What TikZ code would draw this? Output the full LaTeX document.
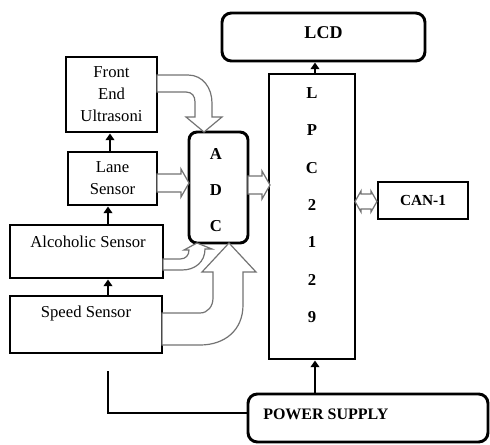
\documentclass[tikz,border=0pt]{standalone}
\usepackage{fontspec}
\setmainfont{Liberation Serif}
\usetikzlibrary{arrows.meta}
\begin{document}
\begin{tikzpicture}[x=0.75pt,y=-0.75pt,
  box/.style={draw, line width=2.2pt, inner sep=0pt, fill=white},
  rbox/.style={box, rounded corners=7pt},
  txt/.style={font=\fontsize{12.5}{16.5}\selectfont, align=center, inner sep=0pt},
  btxt/.style={font=\fontsize{12.5}{16.5}\selectfont\bfseries, align=center, inner sep=0pt},
  link/.style={line width=1.8pt, -{Triangle[length=5pt,width=6.5pt]}},
  blk/.style={draw=black!55, line width=0.9pt, fill=white, line join=miter},
]
\useasboundingbox (0,0) rectangle (490,444);

% boxes
\node[rbox, minimum width=152.25pt, minimum height=36pt] (lcd) at (323.5,37) {};
\node[btxt, font=\fontsize{13.5}{16}\selectfont\bfseries] (lcdt) at (323.5,33) {LCD};
\node[box, minimum width=64.5pt, minimum height=213.75pt] (lpc) at (312,216.5) {};
\node[btxt, font=\fontsize{12.5}{28}\selectfont\bfseries] (lpct) at (312,205)
  {L\\P\\C\\2\\1\\2\\9};
\node[box, minimum width=67.5pt, minimum height=27.75pt, btxt,
      font=\fontsize{11.5}{14}\selectfont\bfseries] (can) at (423,200.5) {CAN-1};
\node[rbox, minimum width=180pt, minimum height=36pt] (pwr) at (368,418) {};
\node[btxt, font=\fontsize{12}{14}\selectfont\bfseries, anchor=west] (pwrt) at (263,414) {POWER SUPPLY};
\node[rbox, rounded corners=6pt, minimum width=44.25pt, minimum height=83.25pt] (adc) at (218.5,187.5) {};
\node[btxt, font=\fontsize{12.5}{27}\selectfont\bfseries] (adct) at (216,190) {A\\D\\C};
\node[box, minimum width=68.25pt, minimum height=56.25pt, txt] (front) at (111.5,94.5) {Front\\End\\Ultrasoni};
\node[box, minimum width=66.75pt, minimum height=39.75pt, txt] (lane) at (112.5,178.5) {Lane\\Sensor};
\node[box, minimum width=114.75pt, minimum height=39.75pt] (alc) at (86.5,251.5) {};
\node[txt] (alct) at (88,242) {Alcoholic Sensor};
\node[box, minimum width=114pt, minimum height=42.75pt] (spd) at (86,324.5) {};
\node[txt] (spdt) at (86,313) {Speed Sensor};

% thin black connectors
\coordinate (ca) at (110,0);
\coordinate (cb) at (108,0);
\coordinate (cc) at (315,0);
\draw[link] (ca |- lane.north) -- (ca |- front.south);
\draw[link] (cb |- alc.north) -- (cb |- lane.south);
\draw[link] (cb |- spd.north) -- (cb |- alc.south);
\draw[link] (cc |- lpc.north) -- (cc |- lcd.south);
\draw[link] (cc |- pwr.north) -- (cc |- lpc.south);
\coordinate (pfree) at (108,371);
\draw[line width=1.8pt] (pfree) |- ([yshift=3.75pt]pwr.west);

% hollow block arrows
\draw[blk] (157,174) -- (181,174) -- (181,169) -- (189,183) -- (181,197) -- (181,192) -- (157,192) -- cycle;
\draw[blk] (248,176) -- (262,176) -- (262,171) -- (270,185) -- (262,199) -- (262,194) -- (248,194) -- cycle;
\draw[blk] (355,201.5) -- (361,191) -- (361,194) -- (371,194) -- (371,191) -- (377,201.5)
  -- (371,212) -- (371,209) -- (361,209) -- (361,212) -- cycle;
% front end -> ADC
\draw[blk] (157,75) -- (188,75) .. controls (203,75) and (212,88) .. (212,103) -- (212,117)
  -- (222,117) -- (204,132) -- (186,117) -- (195,117) -- (195,102)
  .. controls (195,96) and (192,92) .. (186,92) -- (157,92) -- cycle;
% alcoholic -> ADC
\draw[blk] (163,259) -- (180,259) .. controls (186,259) and (189,255) .. (189,250)
  -- (184,250) -- (197,243) -- (212,249) -- (205,249)
  .. controls (205,262) and (195,270) .. (182,270) -- (163,270) -- cycle;
% speed -> ADC
\draw[blk] (162,313) -- (200,313) .. controls (208,313) and (213,306) .. (213,298)
  -- (213,272) -- (202,272) -- (229,243) -- (256,272) -- (243,272) -- (243,305)
  .. controls (243,330) and (225,345) .. (200,345) -- (162,345) -- cycle;
\end{tikzpicture}
\end{document}
